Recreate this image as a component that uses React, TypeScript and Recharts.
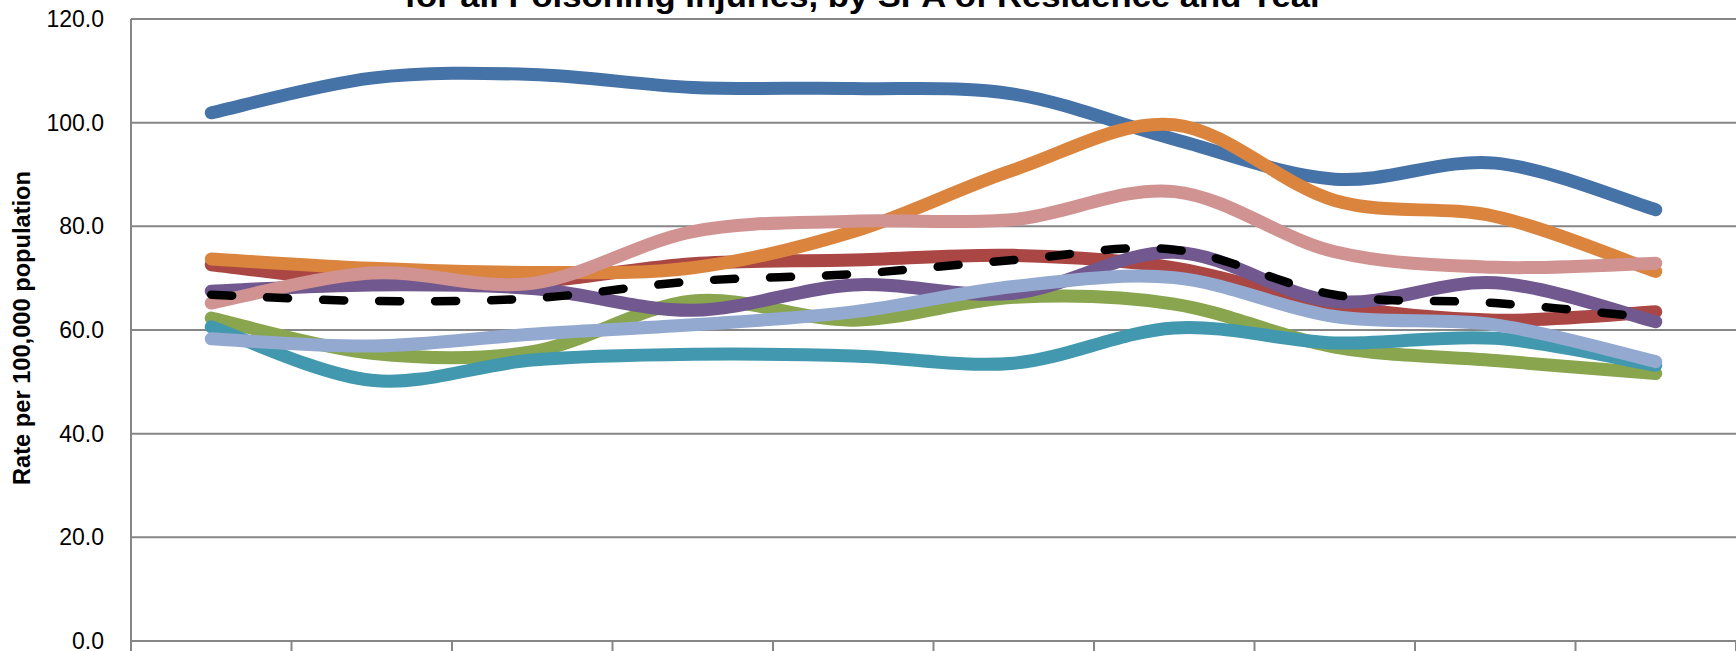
import { LineChart, Line, XAxis, YAxis, CartesianGrid, Customized } from 'recharts'

const years = ['2001', '2002', '2003', '2004', '2005', '2006', '2007', '2008', '2009', '2010']

const spa1 = [101.9, 108.6, 109.3, 106.8, 106.6, 105.5, 96.8, 89.1, 92.2, 83.2]
const spa2 = [72.6, 69.2, 69.3, 72.8, 73.5, 74.4, 72.0, 64.8, 61.9, 63.5]
const spa3 = [62.3, 55.5, 55.8, 65.6, 61.9, 66.3, 65.0, 56.7, 54.1, 51.6]
const spa4 = [67.5, 68.7, 68.0, 63.8, 68.7, 67.1, 75.0, 65.5, 69.1, 61.6]
const spa5 = [60.6, 50.3, 54.2, 55.3, 55.0, 53.6, 60.4, 57.5, 58.4, 53.2]
const spa6 = [73.7, 71.9, 71.1, 72.0, 79.0, 90.9, 99.6, 85.0, 81.9, 71.3]
const spa7 = [58.3, 56.9, 59.2, 61.0, 63.5, 68.4, 70.1, 62.6, 61.0, 53.9]
const spa8 = [65.2, 71.0, 69.0, 79.0, 81.0, 81.3, 86.7, 75.1, 72.1, 72.9]
const laCounty = [66.8, 65.6, 66.1, 69.4, 70.8, 73.5, 75.5, 66.8, 65.2, 62.3]

const yTicks = [0, 20, 40, 60, 80, 100, 120]

const series = [
  { key: 'spa1', name: 'SPA 1', color: '#4572A7', values: spa1 },
  { key: 'spa2', name: 'SPA 2', color: '#AA4643', values: spa2 },
  { key: 'spa3', name: 'SPA 3', color: '#89A54E', values: spa3 },
  { key: 'spa4', name: 'SPA 4', color: '#71588F', values: spa4 },
  { key: 'spa5', name: 'SPA 5', color: '#4198AF', values: spa5 },
  { key: 'spa6', name: 'SPA 6', color: '#DB843D', values: spa6 },
  { key: 'spa7', name: 'SPA 7', color: '#93A9CF', values: spa7 },
  { key: 'spa8', name: 'SPA 8', color: '#D19392', values: spa8 },
]

const data = years.map((year, i) => {
  const row: Record<string, any> = { year, la: laCounty[i] }
  series.forEach(s => { row[s.key] = s.values[i] })
  return row
})

// excel-like smoothed line (catmull-rom style bezier through every point)
const excelSmooth = (context: any) => {
  let pts: number[][] = []
  return {
    areaStart() {},
    areaEnd() {},
    lineStart() { pts = [] },
    lineEnd() {
      const n = pts.length
      if (!n) return
      context.moveTo(pts[0][0], pts[0][1])
      if (n === 1) { context.lineTo(pts[0][0], pts[0][1]); return }
      for (let i = 0; i < n - 1; i++) {
        const p0 = pts[i - 1] ?? pts[i]
        const p1 = pts[i]
        const p2 = pts[i + 1]
        const p3 = pts[i + 2] ?? pts[i + 1]
        context.bezierCurveTo(
          p1[0] + (p2[0] - p0[0]) / 6, p1[1] + (p2[1] - p0[1]) / 6,
          p2[0] - (p3[0] - p1[0]) / 6, p2[1] - (p3[1] - p1[1]) / 6,
          p2[0], p2[1],
        )
      }
    },
    point(x: number, y: number) { pts.push([+x, +y]) },
  }
}

// excel puts the tick marks between categories, not under them
function BetweenTick({ x, y, payload, index }: any) {
  const half = payload?.offset ?? 0
  return (
    <g>
      <line x1={x - half} x2={x - half} y1={y} y2={y + 10} stroke="#868686" strokeWidth={2} />
      {index === years.length - 1 && (
        <line x1={x + half} x2={x + half} y1={y} y2={y + 10} stroke="#868686" strokeWidth={2} />
      )}
    </g>
  )
}

function Titles() {
  return (
    <g>
      <text
        x={864} y={7} textAnchor="middle" fontSize={32} fontWeight="bold" fill="#000"
        textLength={919} lengthAdjust="spacingAndGlyphs"
      >
        for all Poisoning Injuries, by SPA of Residence and Year
      </text>
      <text
        transform="translate(30, 328) rotate(-90)" textAnchor="middle"
        fontSize={23.5} fontWeight="bold" fill="#000"
        textLength={314} lengthAdjust="spacingAndGlyphs"
      >
        Rate per 100,000 population
      </text>
    </g>
  )
}

export default function App() {
  return (
    <div style={{ position: 'absolute', left: 0, top: 0, width: 1736, height: 651, background: '#fff' }}>
      <LineChart
        width={1736}
        height={651}
        data={data}
        margin={{ top: 19, right: 0, bottom: 0, left: 0 }}
        style={{ fontFamily: '"Liberation Sans", Arial, sans-serif' }}
      >
        <CartesianGrid vertical={false} stroke="#868686" strokeWidth={2} />
        <XAxis
          dataKey="year"
          type="category"
          scale="band"
          height={10}
          interval={0}
          tickLine={false}
          tickSize={0}
          tickMargin={0}
          tick={<BetweenTick />}
          stroke="#868686"
          strokeWidth={2}
        />
        <YAxis
          type="number"
          domain={[0, 120]}
          ticks={yTicks}
          interval={0}
          width={131}
          tickLine={false}
          tickSize={0}
          tickMargin={27}
          stroke="#868686"
          strokeWidth={2}
          tick={{ fill: '#000', fontSize: 23 }}
          tickFormatter={(v: number) => v.toFixed(1)}
        />
        {series.map(s => (
          <Line
            key={s.key}
            dataKey={s.key}
            name={s.name}
            type={excelSmooth as any}
            stroke={s.color}
            strokeWidth={13}
            strokeLinecap="round"
            strokeLinejoin="round"
            dot={false}
            activeDot={false}
            isAnimationActive={false}
          />
        ))}
        <Line
          dataKey="la"
          name="LA County"
          type={excelSmooth as any}
          stroke="#000"
          strokeWidth={8.5}
          strokeDasharray="21 35"
          strokeLinecap="round"
          dot={false}
          activeDot={false}
          isAnimationActive={false}
        />
        <Customized component={Titles} />
      </LineChart>
    </div>
  )
}
